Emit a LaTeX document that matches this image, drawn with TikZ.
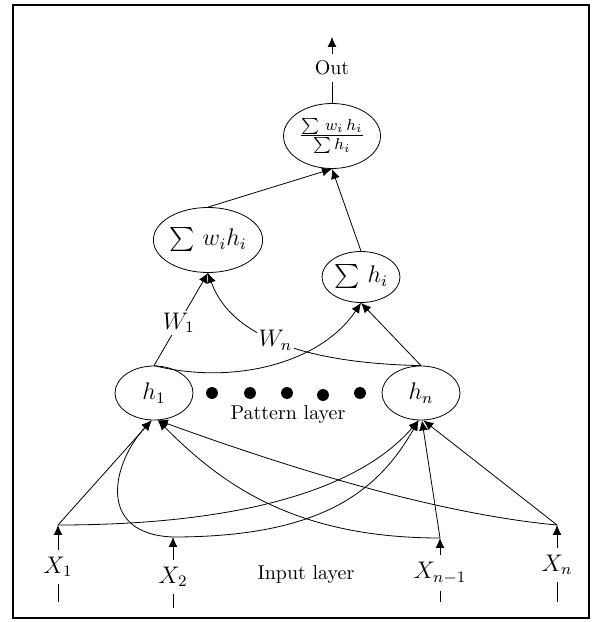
\documentclass[tikz,border=0pt]{standalone}
\usepackage{amsmath,amssymb}
\usepackage{tikz}
\usetikzlibrary{shapes.geometric,arrows.meta}

\begin{document}
\begin{tikzpicture}[x=0.5pt,y=0.5pt,
    unit/.style={draw,ellipse,inner sep=0pt,font=\large},
    mathlbl/.style={font=\large},
    arr/.style={-{Latex[length=5pt,width=4.5pt]}},
    blob/.style={circle,fill,inner sep=2.1pt}]
  \useasboundingbox (0,0) rectangle (600,622);
  \draw[line width=1.3pt] (13,4) rectangle (589,617);
  % output side
  \node[unit,minimum width=48.5pt,minimum height=32.5pt] (ratio) at (332,486)
    {$\frac{\sum\, w_i\, h_i}{\sum h_i}$};
  \node (out) at (332,554) {Out};
  \coordinate (outtip) at (332,585);
  \draw (ratio) -- (out);
  \draw[arr] (out) -- (outtip);
  % summation layer
  \node[unit,minimum width=48.5pt,minimum height=32.5pt] (wsum) at (208,382)
    {$\sum\, w_i h_i$};
  \node[unit,minimum width=39pt,minimum height=25.5pt] (hsum) at (361,345)
    {$\sum\, h_i$};
  \draw[arr] (wsum.north) -- (ratio.south);
  \draw[arr] (hsum.north) -- (ratio.south);
  % pattern layer
  \node[unit,minimum width=39pt,minimum height=27pt] (h1) at (154,229) {$h_1$};
  \node[unit,minimum width=39pt,minimum height=27pt] (hn) at (421,229) {$h_n$};
  \foreach \i/\x/\y in {1/212/229,2/250/229,3/287/229,4/323/227,5/360/229}
    \node[blob] (dot\i) at (\x,\y) {};
  \node (pattern) at (288,207) {Pattern layer};
  \draw[arr] (h1.north) -- node[mathlbl,pos=0.46,fill=white,inner sep=1pt] {$W_1$} (wsum.south);
  \draw[arr] (hn.north) .. controls +(-100,2) and +(25,-70) ..
    node[mathlbl,pos=0.55,fill=white,inner sep=1pt] {$W_n$} (wsum.south);
  \draw[arr] (h1.north) .. controls +(80,-20) and +(-40,-60) .. (hsum.south);
  \draw[arr] (hn.north) -- (hsum.south);
  % input layer
  \foreach \n/\lbl/\x/\yl/\yt/\yb in {x1/X_1/58/55/97/20, x2/X_2/173/45/85/14,
      xm/X_{n-1}/440/49/84/20, xn/X_n/557/57/97/20}{
    \node[mathlbl] (\n) at (\x,\yl) {$\lbl$};
    \coordinate (\n t) at (\x,\yt);
    \coordinate (\n b) at (\x,\yb);
    \draw[arr] (\n) -- (\n t);
    \draw (\n) -- (\n b);
  }
  \node (input) at (306,47) {Input layer};
  \draw[arr] (x1t) -- (h1.-95);
  \draw[arr] (x1t) .. controls +(180,0) and +(-60,-70) .. (hn.-95);
  \draw[arr] (x2t) .. controls +(-78,3) and +(-39,-42) .. (h1.-95);
  \draw[arr] (x2t) .. controls +(150,0) and +(-40,-70) .. (hn.-95);
  \draw[arr] (xmt) .. controls +(-150,0) and +(60,-60) .. (h1.-82);
  \draw[arr] (xmt) -- (hn.-88);
  \draw[arr] (xnt) .. controls +(-130,12) and +(110,-40) .. (h1.-82);
  \draw[arr] (xnt) -- (hn.-85);
\end{tikzpicture}
\end{document}
